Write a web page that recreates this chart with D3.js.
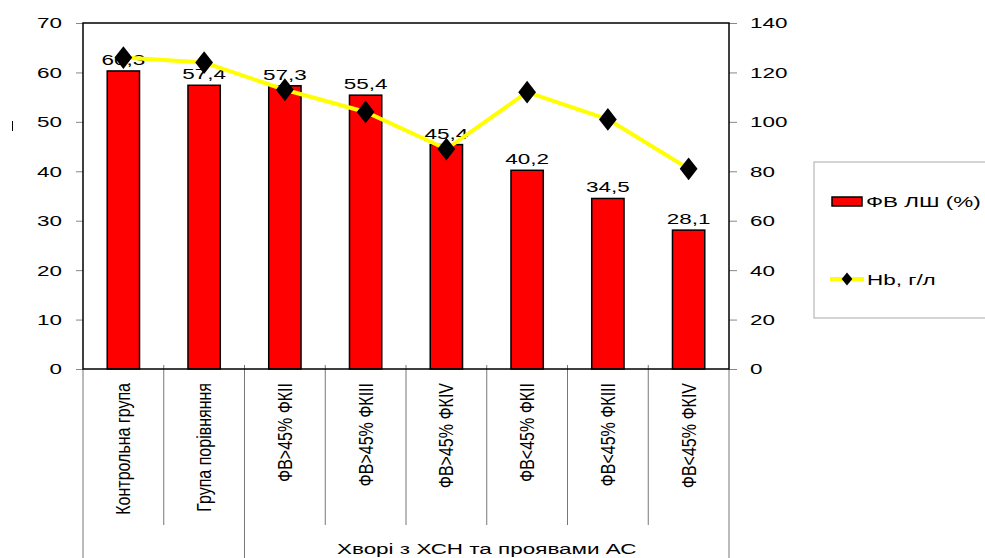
<!DOCTYPE html>
<html>
<head>
<meta charset="utf-8">
<script src="https://cdn.jsdelivr.net/npm/d3@7"></script>
<style>
  body { margin: 0; background: #fff; }
  text { font-family: "Liberation Sans", Arial, sans-serif; fill: #000; }
  .cat { font-family: "Liberation Sans Narrow", "Arial Narrow", sans-serif; font-size: 16px; }
</style>
</head>
<body>
<svg id="chart"></svg>
<script>
const categories = ['Контрольна група', 'Група порівняння', 'ФВ>45% ФКІІ', 'ФВ>45% ФКІІІ',
  'ФВ>45% ФКIV', 'ФВ<45% ФКІІ', 'ФВ<45% ФКІІІ', 'ФВ<45% ФКIV'];
const efValues = [60.3, 57.4, 57.3, 55.4, 45.4, 40.2, 34.5, 28.1];
const hbValues = [126, 124, 113, 104, 89, 112, 101, 81];
const leftTicks = [0, 10, 20, 30, 40, 50, 60, 70];
const rightTicks = [0, 20, 40, 60, 80, 100, 120, 140];
const groupLabel = 'Хворі з ХСН та проявами АС';
const groupStart = 2; // first category of the patient group
const seriesNames = ['ФВ ЛШ (%)', 'Hb, г/л'];

const W = 985, H = 558;
const mg = { left: 83, right: 256, top: 23, bottom: 189 };
const iw = W - mg.left - mg.right, ih = H - mg.top - mg.bottom;
const SX = 1.45; // horizontal stretch of the original text

// stretch a text horizontally around its own anchor point
function stretch(sel) {
  sel.each(function () {
    const t = d3.select(this);
    const a = +t.attr('x') || 0, b = +t.attr('y') || 0;
    t.attr('transform', `translate(${a},${b}) scale(${SX},1) translate(${-a},${-b})`);
  });
}

const svg = d3.select('#chart').attr('width', W).attr('height', H);
const g = svg.append('g').attr('transform', `translate(${mg.left},${mg.top})`);

const x = d3.scaleBand().domain(categories).range([0, iw]).paddingInner(0.6).paddingOuter(0.3);
const xb = d3.scaleBand().domain(categories).range([0, iw]);
const y = d3.scaleLinear().domain([0, 70]).range([ih, 0]);
const y2 = d3.scaleLinear().domain([0, 140]).range([ih, 0]);

// left axis
const ax = g.append('g').call(d3.axisLeft(y).tickValues(leftTicks).tickSize(7).tickPadding(14));
ax.select('.domain').remove();
ax.selectAll('line').attr('stroke', '#888');
ax.selectAll('text').style('font-size', '15.5px').call(stretch);

// right axis
const ax2 = g.append('g').attr('transform', `translate(${iw},0)`)
  .call(d3.axisRight(y2).tickValues(rightTicks).tickSize(8).tickPadding(13));
ax2.select('.domain').remove();
ax2.selectAll('line').attr('stroke', '#888');
ax2.selectAll('text').style('font-size', '15.5px').call(stretch);

// category separators below axis
categories.forEach((c, i) => {
  if (i === 0) return;
  const xx = xb(c);
  const yEnd = i === groupStart ? H - mg.top : ih + 156;
  g.append('line').attr('x1', xx).attr('x2', xx).attr('y1', ih - 4).attr('y2', yEnd)
    .attr('stroke', '#777').attr('stroke-width', 1);
});
g.append('line').attr('x1', 0).attr('x2', 0).attr('y1', ih).attr('y2', H - mg.top)
  .attr('stroke', '#777');
g.append('line').attr('x1', iw).attr('x2', iw).attr('y1', ih).attr('y2', H - mg.top)
  .attr('stroke', '#777');

// category labels (rotated, glyphs a bit taller than wide)
g.selectAll('.cat').data(categories).enter().append('text')
  .attr('class', 'cat')
  .attr('transform', (d) => `translate(${xb(d) + xb.bandwidth() / 2 + 7},${ih + 14}) rotate(-90) scale(1,1.3)`)
  .attr('text-anchor', 'end')
  .text((d) => d);

g.append('text')
  .attr('x', (xb(categories[groupStart]) + iw) / 2).attr('y', H - mg.top - 4)
  .attr('text-anchor', 'middle').style('font-size', '15.5px')
  .text(groupLabel).call(stretch);

// bars
g.selectAll('.bar').data(efValues).enter().append('rect')
  .attr('x', (d, i) => x(categories[i])).attr('width', x.bandwidth())
  .attr('y', (d) => y(d)).attr('height', (d) => ih - y(d))
  .attr('fill', '#ff0000').attr('stroke', '#000').attr('stroke-width', 1.5);

g.selectAll('.val').data(efValues).enter().append('text')
  .attr('x', (d, i) => x(categories[i]) + x.bandwidth() / 2)
  .attr('y', (d) => y(d) - 6)
  .attr('text-anchor', 'middle').style('font-size', '15.5px')
  .text((d) => d3.format('.1f')(d).replace('.', ','))
  .call(stretch);

// frame
g.append('rect').attr('x', 0).attr('y', 0).attr('width', iw).attr('height', ih)
  .attr('fill', 'none').attr('stroke', '#000').attr('stroke-width', 1.5);

// Hb line
const line = d3.line().x((d, i) => xb(categories[i]) + xb.bandwidth() / 2).y((d) => y2(d));
g.append('path').datum(hbValues).attr('d', line)
  .attr('fill', 'none').attr('stroke', '#ffff00').attr('stroke-width', 4);
const diamond = d3.symbol().type(d3.symbolDiamond).size(150);
g.selectAll('.pt').data(hbValues).enter().append('path')
  .attr('d', diamond)
  .attr('transform', (d, i) => `translate(${xb(categories[i]) + xb.bandwidth() / 2},${y2(d)}) scale(1.35,1)`)
  .attr('fill', '#000');

// small stray mark on the left
svg.append('line').attr('x1', 12.5).attr('x2', 12.5).attr('y1', 121).attr('y2', 131)
  .attr('stroke', '#000').attr('stroke-width', 1);

// legend
const lg = svg.append('g').attr('transform', 'translate(814,162)');
lg.append('rect').attr('x', 0).attr('y', 0).attr('width', 180).attr('height', 156)
  .attr('fill', '#fff').attr('stroke', '#aaa');
lg.append('rect').attr('x', 18).attr('y', 35).attr('width', 30).attr('height', 9)
  .attr('fill', '#ff0000').attr('stroke', '#000').attr('stroke-width', 1.5);
lg.append('text').attr('x', 52).attr('y', 45).style('font-size', '15.5px').text(seriesNames[0]).call(stretch);
lg.append('line').attr('x1', 16).attr('x2', 50).attr('y1', 117).attr('y2', 117)
  .attr('stroke', '#ffff00').attr('stroke-width', 4);
lg.append('path').attr('d', d3.symbol().type(d3.symbolDiamond).size(50))
  .attr('transform', 'translate(33,117) scale(1.4,1)').attr('fill', '#000');
lg.append('text').attr('x', 53).attr('y', 123).style('font-size', '15.5px').text(seriesNames[1]).call(stretch);
</script>
</body>
</html>
